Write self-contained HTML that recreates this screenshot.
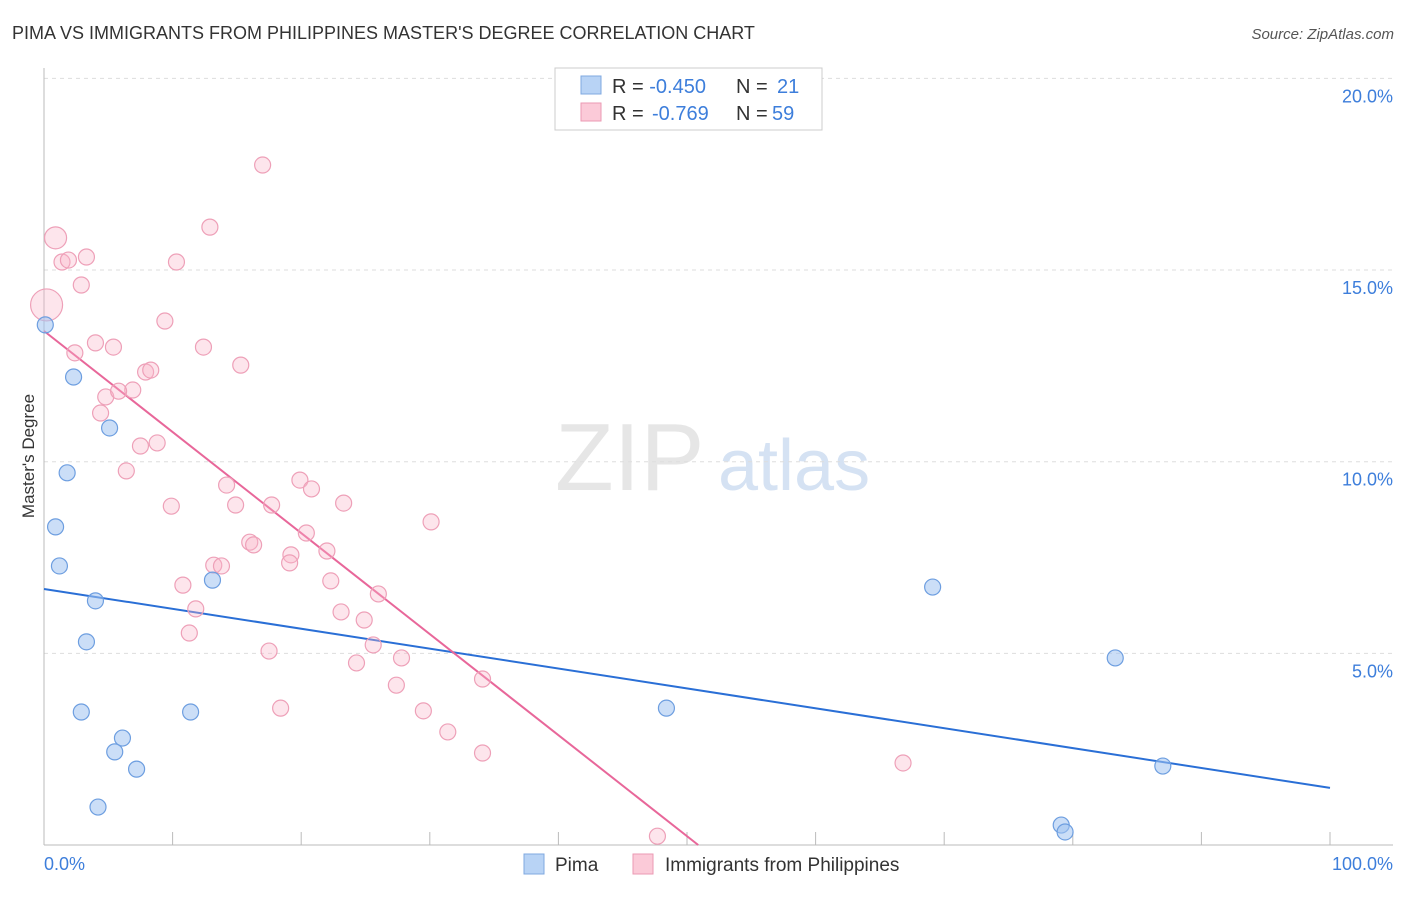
<!DOCTYPE html>
<html><head><meta charset="utf-8"><style>
body{margin:0;background:#fff;font-family:"Liberation Sans",sans-serif;}
svg text{font-family:"Liberation Sans",sans-serif;}
</style></head><body>
<svg id="c" width="1406" height="892" xmlns="http://www.w3.org/2000/svg">
<text x="12" y="39" font-size="18" fill="#333">PIMA VS IMMIGRANTS FROM PHILIPPINES MASTER'S DEGREE CORRELATION CHART</text>
<text x="1394" y="39" font-size="15" fill="#555" font-style="italic" text-anchor="end">Source: ZipAtlas.com</text>
<text x="555" y="490" font-size="96" fill="#e6e6e6" font-family="Liberation Serif">ZIP</text>
<text x="718" y="490" font-size="72" fill="#d5e2f3">atlas</text>
<g id="grid"></g><g id="axes"></g><g id="lines"></g><g id="pts"></g>
<text transform="translate(34,456) rotate(-90)" font-size="17" fill="#333" text-anchor="middle">Master's Degree</text>
<g>
<rect x="555" y="68" width="267" height="62" fill="#fff" stroke="#ccc"/>
<rect x="581" y="76" width="20" height="18" fill="#b8d3f5" stroke="#7fa8e0"/>
<rect x="581" y="103" width="20" height="18" fill="#fbcad8" stroke="#eb9ab3"/>
<text x="612" y="93" font-size="20" fill="#333">R = <tspan fill="#3d7edb">-0.450</tspan><tspan x="736">N = </tspan><tspan fill="#3d7edb" x="777">21</tspan></text>
<text x="612" y="120" font-size="20" fill="#333">R = <tspan fill="#3d7edb" x="652">-0.769</tspan><tspan x="736">N = </tspan><tspan fill="#3d7edb" x="772">59</tspan></text>
</g>
<g>
<rect x="524" y="854" width="20" height="20" fill="#b8d3f5" stroke="#7fa8e0"/>
<text x="555" y="871" font-size="19" fill="#333">Pima</text>
<rect x="633" y="854" width="20" height="20" fill="#fbcad8" stroke="#eb9ab3"/>
<text x="665" y="871" font-size="19" fill="#333">Immigrants from Philippines</text>
</g>
</svg>
<script>
const pimaX=[0.1,2.3,5.1,1.8,0.9,1.2,4.0,13.1,3.3,2.9,11.4,6.1,5.5,7.2,4.2,69.1,83.3,48.4,87.0,79.1,79.4];
const pimaY=[13.57,12.21,10.88,9.71,8.30,7.28,6.37,6.91,5.30,3.47,3.47,2.79,2.43,1.98,0.99,6.73,4.88,3.57,2.06,0.52,0.34];
const philX=[0.9,0.2,1.4,1.9,3.3,2.9,2.4,4.0,5.4,4.4,4.8,6.9,5.8,7.9,8.3,7.5,8.8,6.4,9.9,9.4,10.3,12.9,17.0,12.4,15.3,14.2,14.9,17.7,19.9,20.8,23.3,30.1,16.0,16.3,20.4,19.2,19.1,22.0,13.2,13.8,10.8,11.8,11.3,22.3,26.0,23.1,24.9,25.6,17.5,24.3,27.8,27.4,18.4,29.5,31.4,34.1,34.1,66.8,47.7];
const philY=[15.84,14.09,15.21,15.26,15.34,14.61,12.84,13.10,12.99,11.27,11.69,11.87,11.84,12.34,12.39,10.41,10.49,9.76,8.84,13.67,15.21,16.12,17.74,12.99,12.52,9.39,8.87,8.87,9.52,9.29,8.92,8.43,7.90,7.83,8.14,7.57,7.36,7.67,7.30,7.28,6.78,6.16,5.53,6.89,6.55,6.08,5.87,5.22,5.06,4.75,4.88,4.17,3.57,3.50,2.95,2.40,4.33,2.14,0.23];
const yTicks=[5,10,15,20];
const yTickLabels=["5.0%","10.0%","15.0%","20.0%"];
const pimaTrend=[6.68,1.49];
const philTrend=[13.41,-0.2636];
const NS="http://www.w3.org/2000/svg";
const X=v=>44+v*12.86, Y=v=>845-v*38.33;
function mk(t,a,p){const e=document.createElementNS(NS,t);for(const k in a)e.setAttribute(k,a[k]);document.getElementById(p).appendChild(e);return e;}
yTicks.forEach((t,i)=>{
 const l=mk('line',{x1:44,x2:1393,y1:Y(t),y2:Y(t),stroke:'#ddd','stroke-dasharray':'4,4'},'grid');
 
 
 const tx=mk('text',{x:1393,y:Y(t)+24,'font-size':18,fill:'#3d7edb','text-anchor':'end'},'grid');
 tx.textContent=yTickLabels[i];
 
 
});
let a=mk('line',{x1:44,x2:44,y1:68,y2:845,stroke:'#bbb'},'axes');


a=mk('line',{x1:44,x2:1393,y1:845,y2:845,stroke:'#bbb'},'axes');


for(let i=1;i<=10;i++){const t=mk('line',{x1:X(i*10),x2:X(i*10),y1:832,y2:845,stroke:'#bbb'},'axes');
 
 }
[["0.0%",44,'start'],["100.0%",1393,'end']].forEach(d=>{const t=mk('text',{x:d[1],y:870,'font-size':18,fill:'#3d7edb','text-anchor':d[2]},'axes');t.textContent=d[0];
 
 });
philX.forEach((x,i)=>{const r=i==0?11:(i==1?16:8);
 const c=mk('circle',{cx:X(x),cy:Y(philY[i]),r:r,fill:'rgba(248,180,200,0.35)',stroke:'#eea0b8','stroke-width':1.2},'pts');
 
 });
pimaX.forEach((x,i)=>{
 const c=mk('circle',{cx:X(x),cy:Y(pimaY[i]),r:8,fill:'rgba(160,195,240,0.55)',stroke:'#6d9ee0','stroke-width':1.2},'pts');
 
 });
let l=mk('line',{x1:X(0),y1:Y(pimaTrend[0]),x2:X(100),y2:Y(pimaTrend[1]),stroke:'#2a6fd6','stroke-width':2},'lines');


const xe=-philTrend[0]/philTrend[1];
l=mk('line',{x1:X(0),y1:Y(philTrend[0]),x2:X(xe),y2:Y(0),stroke:'#e8679a','stroke-width':2},'lines');


</script>
</body></html>
